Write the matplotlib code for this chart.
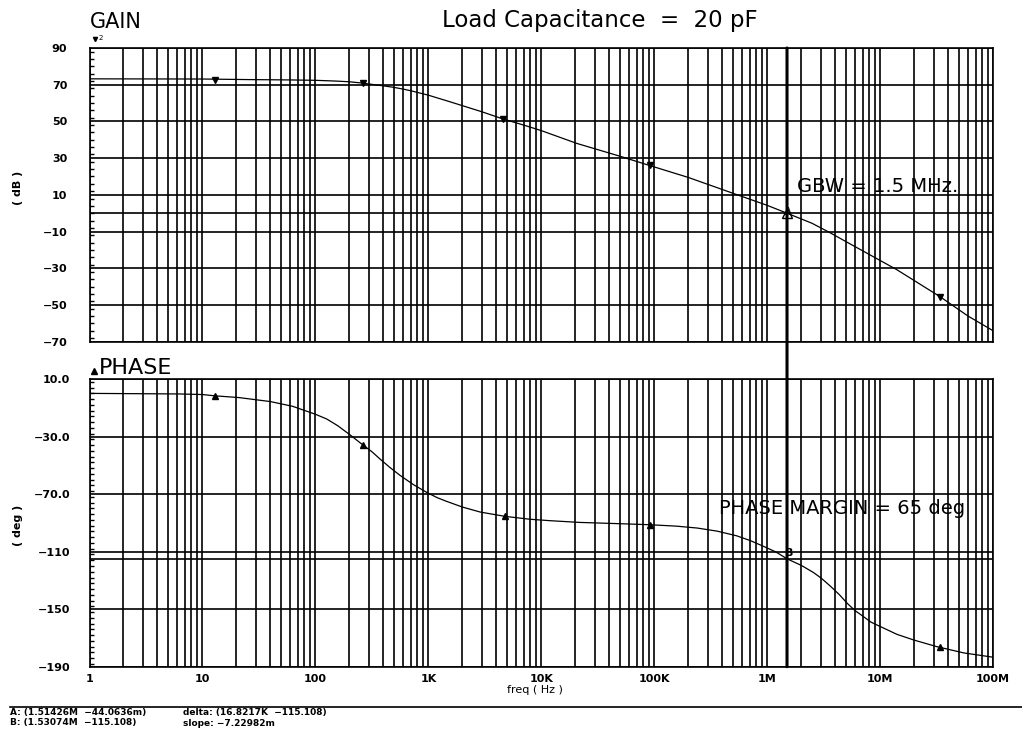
import numpy as np
import matplotlib
matplotlib.use("Agg")
import matplotlib.pyplot as plt
from matplotlib.ticker import FixedLocator, LogLocator, MultipleLocator, NullFormatter
from matplotlib.patches import ConnectionPatch
from matplotlib.lines import Line2D

# ---------------- data ----------------
gain_freq = [1, 10, 25, 60, 100, 150, 200, 251, 316, 398, 490, 600, 700, 850, 1e3,
             1.5e3, 2e3, 3e3, 4.6e3, 7e3, 1e4, 2.07e4, 5e4, 9.1e4, 2e5, 5.75e5, 1e6,
             1.5e6, 2.5e6, 3.6e6, 5e6, 1.41e7, 3.4e7, 6e7, 1e8]
gain_db = [73.2, 73.1, 72.8, 72.6, 72.4, 72.0, 71.6, 71.0, 70.2, 69.4, 68.6, 67.6,
           66.7, 65.4, 64.3, 61.0, 58.6, 55.2, 51.3, 48.0, 45.0, 38.0, 31.0, 26.0,
           19.5, 9.5, 4.3, 0.0, -5.5, -10.6, -15.5, -30.8, -45.5, -56.0, -64.0]

phase_freq = [1, 6.3, 10, 12.9, 21, 40, 63, 100, 126, 158, 204, 263, 316, 372, 457,
              562, 741, 977, 1.2e3, 1445, 2e3, 2884, 4786, 7943, 1.2e4, 2.19e4, 5e4,
              9.12e4, 1.58e5, 2.4e5, 3.63e5, 5.37e5, 7.08e5, 9.33e5, 1.2e6, 1.5e6,
              2e6, 2.57e6, 3.02e6, 3.63e6, 4.37e6, 5.13e6, 6e6, 7.08e6, 8.3e6, 1e7,
              1.41e7, 2e7, 3.16e7, 5.5e7, 1e8]
phase_deg = [0.0, -0.4, -0.8, -1.7, -2.9, -5.7, -9.0, -14.5, -17.8, -22.5, -29.0,
             -35.8, -40.5, -45.5, -51.5, -57.0, -63.5, -69.0, -72.5, -75.0, -79.0,
             -82.5, -85.5, -87.5, -88.5, -89.7, -90.6, -91.3, -92.3, -93.6, -95.8,
             -99.0, -102.3, -106.4, -110.3, -115.0, -119.5, -124.5, -128.5, -134.0,
             -140.0, -146.0, -151.0, -155.0, -159.0, -162.0, -167.5, -171.5, -176.0,
             -180.4, -183.4]

gain_marker_freq = [12.9, 263, 4.6e3, 9.1e4, 3.4e7]
gain_marker_db = [72.8, 70.8, 51.3, 26.0, -45.5]
phase_marker_freq = [12.9, 263, 4.8e3, 9.1e4, 3.4e7]
phase_marker_deg = [-1.7, -35.8, -85.5, -91.3, -176.3]

x_ticks = [1, 10, 100, 1e3, 1e4, 1e5, 1e6, 1e7, 1e8]
x_ticklabels = ["1", "10", "100", "1K", "10K", "100K", "1M", "10M", "100M"]
gain_ticks = [90, 70, 50, 30, 10, -10, -30, -50, -70]
gain_ticklabels = ["90", "70", "50", "30", "10", "\u221210", "\u221230", "\u221250", "\u221270"]
phase_ticks = [10, -30, -70, -110, -150, -190]
phase_ticklabels = ["10.0", "\u221230.0", "\u221270.0", "\u2212110", "\u2212150", "\u2212190"]

gbw_freq = 1.5e6
gbw_gain = 0.0
pm_phase = -115.0

# ---------------- figure ----------------
W, H = 1022, 733
fig = plt.figure(figsize=(W / 100, H / 100), dpi=100)
fig.patch.set_facecolor("white")

ax1 = fig.add_axes([89.5 / W, 1 - 341.7 / H, (993 - 89.5) / W, (341.7 - 48) / H])
ax2 = fig.add_axes([89.5 / W, 1 - 666.7 / H, (993 - 89.5) / W, (666.7 - 379) / H])

tick_font = dict(family="DejaVu Sans", weight="bold", size=8)

for ax in (ax1, ax2):
    ax.set_xscale("log")
    ax.set_xlim(1, 1e8)
    ax.xaxis.set_major_locator(FixedLocator(x_ticks))
    ax.xaxis.set_minor_locator(LogLocator(base=10, subs=np.arange(2, 10), numticks=100))
    ax.xaxis.set_minor_formatter(NullFormatter())
    ax.grid(True, which="both", axis="x", color="black", lw=1.2)
    ax.grid(True, which="major", axis="y", color="black", lw=1.2)
    ax.yaxis.set_minor_locator(MultipleLocator(4))
    ax.tick_params(axis="x", which="both", length=0)
    ax.tick_params(axis="y", which="major", length=0)
    ax.tick_params(axis="y", which="minor", length=3, direction="in", width=1, color="black")
    for s in ax.spines.values():
        s.set_linewidth(1.2)
        s.set_color("black")
    ax.set_axisbelow(True)

# gain
ax1.set_ylim(-70, 90)
ax1.set_yticks(gain_ticks)
ax1.set_yticklabels(gain_ticklabels, fontdict=tick_font)
ax1.tick_params(axis="y", which="major", pad=16)
ax1.tick_params(axis="x", labelbottom=False)
ax1.plot(gain_freq, gain_db, color="black", lw=0.9)
ax1.plot(gain_marker_freq, gain_marker_db, ls="none", marker="v", ms=4, color="black")
ax1.axhline(gbw_gain, color="black", lw=1.2)
ax1.plot([gbw_freq], [gbw_gain], marker="^", ms=7, mfc="none", mec="black", mew=1)
ax1.text(gbw_freq * 1.03, gbw_gain + 0.5, "A", fontsize=7, ha="center", va="center")
ax1.text(1.85e6, 14.5, "GBW = 1.5 MHz.", fontsize=14, va="center", ha="left")

# phase
ax2.set_ylim(-190, 10)
ax2.set_yticks(phase_ticks)
ax2.set_yticklabels(phase_ticklabels, fontdict=tick_font)
ax2.tick_params(axis="y", which="major", pad=14)
ax2.set_xticklabels(x_ticklabels, fontdict=tick_font)
ax2.tick_params(axis="x", which="major", pad=5)
ax2.plot(phase_freq, phase_deg, color="black", lw=0.9)
ax2.plot(phase_marker_freq, phase_marker_deg, ls="none", marker="^", ms=4, color="black")
ax2.axhline(pm_phase, color="black", lw=1.2)
ax2.text(gbw_freq * 1.05, -111, "B", fontsize=8, ha="center", va="center", weight="bold")
ax2.text(3.77e5, -80.2, "PHASE MARGIN = 65 deg", fontsize=14, va="center", ha="left")

# vertical cursor spanning both plots
con = ConnectionPatch(xyA=(gbw_freq, 90), coordsA=ax1.transData,
                      xyB=(gbw_freq, -190), coordsB=ax2.transData,
                      color="black", lw=2.2)
fig.add_artist(con)

# small trace markers near the plot names
fig.add_artist(Line2D([94 / W], [1 - 371 / H], marker="^", ms=4, color="black", ls="none"))
fig.add_artist(Line2D([95 / W], [1 - 39 / H], marker="v", ms=3, color="black", ls="none"))

# texts
fig.text(90 / W, 1 - 22 / H, "GAIN", fontsize=15, ha="left", va="center")
fig.text(99 / W, 1 - 368 / H, "PHASE", fontsize=16, ha="left", va="center")
fig.text(600 / W, 1 - 21 / H, "Load Capacitance  =  20 pF", fontsize=16.5, ha="center", va="center")
fig.text(99 / W, 1 - 38 / H, "2", fontsize=5, ha="left", va="center")
fig.text(535 / W, 1 - 690 / H, "freq ( Hz )", fontsize=8, ha="center", va="center")
fig.text(18 / W, 1 - 188 / H, "( dB )", fontsize=8, rotation=90, ha="center", va="center", weight="bold")
fig.text(18 / W, 1 - 525 / H, "( deg )", fontsize=8, rotation=90, ha="center", va="center", weight="bold")

# bottom readout
fig.add_artist(Line2D([10 / W, 1.0], [1 - 707 / H, 1 - 707 / H], color="black", lw=1.2))
fig.text(10 / W, 1 - 713 / H, "A: (1.51426M  \u221244.0636m)", fontsize=6.5, ha="left", va="center", weight="bold")
fig.text(10 / W, 1 - 723 / H, "B: (1.53074M  \u2212115.108)", fontsize=6.5, ha="left", va="center", weight="bold")
fig.text(183 / W, 1 - 713 / H, "delta: (16.8217K  \u2212115.108)", fontsize=6.5, ha="left", va="center", weight="bold")
fig.text(183 / W, 1 - 723 / H, "slope: \u22127.22982m", fontsize=6.5, ha="left", va="center", weight="bold")

fig.savefig("out.png", dpi=100, facecolor="white")
